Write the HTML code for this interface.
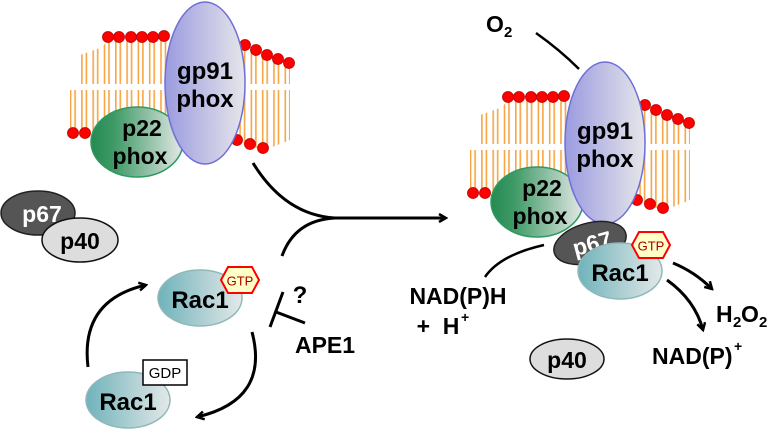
<!DOCTYPE html>
<html><head><meta charset="utf-8"><style>
html,body{margin:0;padding:0;background:#fff;}
svg{display:block;font-family:"Liberation Sans",Arial,sans-serif;font-weight:bold;}
</style></head><body>
<svg width="774" height="429" viewBox="0 0 774 429" xmlns="http://www.w3.org/2000/svg">
<defs>
<pattern id="lip" width="11.3" height="10" patternUnits="userSpaceOnUse" x="2">
<rect x="0" y="0" width="1.6" height="10" fill="#f7a545"/>
<rect x="4.5" y="0" width="1.6" height="10" fill="#f7a545"/>
</pattern>
<linearGradient id="gp" x1="0" x2="1"><stop offset="0" stop-color="#9b9be0"/><stop offset="1" stop-color="#e6e6ea"/></linearGradient>
<linearGradient id="p22" x1="0" x2="1"><stop offset="0" stop-color="#248a52"/><stop offset="0.25" stop-color="#3e9a66"/><stop offset="1" stop-color="#e4e8e6"/></linearGradient>
<linearGradient id="rac" x1="0" x2="1"><stop offset="0" stop-color="#6fb3ba"/><stop offset="1" stop-color="#e4e8e8"/></linearGradient>
<marker id="ah" markerWidth="10" markerHeight="10" refX="8" refY="5" orient="auto" markerUnits="userSpaceOnUse"><path d="M1,1 L8,5 L1,9" fill="none" stroke="#000" stroke-width="2.5"/></marker>
<g id="mem">
<polygon points="80,55 100,48 110,40 170,40 240,45 290,64 290,86 80,86" fill="url(#lip)"/>
<polygon points="70,90 290,90 290,140 265,150 235,143 90,133 70,133" fill="url(#lip)"/>
<rect x="70" y="84" width="222" height="6" fill="#fff"/>
<g fill="#f00" stroke="#b00" stroke-width="0.8">
<circle cx="108" cy="37" r="5.5"/><circle cx="119" cy="37" r="5.5"/><circle cx="131" cy="37" r="5.5"/><circle cx="142" cy="37" r="5.5"/><circle cx="153" cy="37" r="5.5"/><circle cx="164" cy="36" r="5.5"/>
<circle cx="245" cy="45" r="5.5"/><circle cx="256" cy="50" r="5.5"/><circle cx="267" cy="55" r="5.5"/><circle cx="278" cy="59" r="5.5"/><circle cx="289" cy="63" r="5.5"/>
<circle cx="73" cy="133" r="5.5"/><circle cx="85" cy="133" r="5.5"/>
<circle cx="237" cy="140" r="5.5"/><circle cx="250" cy="144" r="5.5"/><circle cx="263" cy="148" r="5.5"/>
</g>
<ellipse cx="137" cy="142" rx="46" ry="35" fill="url(#p22)" stroke="#2e9a60" stroke-width="1.5"/>
<text x="142" y="136" font-size="23" text-anchor="middle">p22</text>
<text x="140" y="164" font-size="23" text-anchor="middle">phox</text>
<ellipse cx="205" cy="83" rx="40" ry="81" fill="url(#gp)" stroke="#6f6fd8" stroke-width="1.5"/>
<text x="205" y="79" font-size="24" text-anchor="middle">gp91</text>
<text x="205" y="107" font-size="24" text-anchor="middle">phox</text>
</g>
</defs>

<use href="#mem"/>
<g transform="translate(400,60)"><use href="#mem"/></g>

<ellipse cx="38" cy="213" rx="37" ry="22" fill="#555" stroke="#222" stroke-width="1.5"/>
<text x="42" y="222" font-size="23" fill="#fff" text-anchor="middle">p67</text>
<ellipse cx="80" cy="240" rx="38" ry="22" fill="#ddd" stroke="#111" stroke-width="1.5"/>
<text x="80" y="249" font-size="23" text-anchor="middle">p40</text>

<g fill="none" stroke="#000" stroke-width="3">
<path d="M253,163 Q285,215 335,218"/>
<path d="M282,256 Q295,220 335,218"/>
<path d="M335,218 L446,218" marker-end="url(#ah)"/>
</g>

<ellipse cx="200" cy="298" rx="42" ry="28" fill="url(#rac)" stroke="#8fb8bb" stroke-width="1.5"/>
<text x="200" y="308" font-size="24" text-anchor="middle">Rac1</text>
<polygon points="221,280 228,267 252,267 259,280 252,293 228,293" fill="#ffffc8" stroke="#f00" stroke-width="2"/>
<text x="240" y="285.5" font-size="13" fill="#a00" font-weight="normal" text-anchor="middle">GTP</text>

<ellipse cx="128" cy="400" rx="42" ry="28" fill="url(#rac)" stroke="#8fb8bb" stroke-width="1.5"/>
<text x="128" y="410" font-size="24" text-anchor="middle">Rac1</text>
<rect x="143" y="360" width="44" height="25" fill="#fff" stroke="#000" stroke-width="1.5"/>
<text x="165" y="378" font-size="15" font-weight="normal" text-anchor="middle">GDP</text>

<g fill="none" stroke="#000" stroke-width="3">
<path d="M88,367 Q80,300 146,285" marker-end="url(#ah)"/>
<path d="M252,332 Q270,400 197,417" marker-end="url(#ah)"/>
<path d="M270,327 L283,292"/>
<path d="M276,312 L305,323"/>
</g>
<text x="300" y="303" font-size="24" text-anchor="middle">?</text>
<text x="325" y="353" font-size="23" text-anchor="middle">APE1</text>

<text x="486" y="32" font-size="23">O</text>
<text x="504" y="37" font-size="15">2</text>
<path d="M536,33 Q560,50 579,69" fill="none" stroke="#000" stroke-width="2.5"/>

<g transform="rotate(-15 590 243)">
<ellipse cx="590" cy="243" rx="37" ry="20" fill="#555" stroke="#222" stroke-width="1.5"/>
<text x="592" y="252" font-size="23" fill="#fff" text-anchor="middle">p67</text>
</g>
<ellipse cx="620" cy="271" rx="42" ry="28" fill="url(#rac)" stroke="#8fb8bb" stroke-width="1.5"/>
<text x="620" y="281" font-size="24" text-anchor="middle">Rac1</text>
<polygon points="632,245 639,232 663,232 670,245 663,258 639,258" fill="#ffffc8" stroke="#f00" stroke-width="2"/>
<text x="651" y="250.5" font-size="13" fill="#a00" font-weight="normal" text-anchor="middle">GTP</text>

<path d="M544,245 Q500,255 485,277" fill="none" stroke="#000" stroke-width="2.5"/>
<text x="458" y="304" font-size="23" text-anchor="middle">NAD(P)H</text>
<text x="438" y="334" font-size="23" text-anchor="middle">+&#160; H</text>
<text x="461" y="322" font-size="14">+</text>

<ellipse cx="567" cy="359" rx="37" ry="20" fill="#ddd" stroke="#111" stroke-width="1.5"/>
<text x="567" y="368" font-size="23" text-anchor="middle">p40</text>

<g fill="none" stroke="#000" stroke-width="3">
<path d="M673,263 Q695,272 712,289" marker-end="url(#ah)"/>
<path d="M667,280 Q695,300 703,330" marker-end="url(#ah)"/>
</g>
<text x="716" y="322" font-size="23">H</text>
<text x="733" y="327" font-size="15">2</text>
<text x="741" y="322" font-size="23">O</text>
<text x="759" y="327" font-size="15">2</text>
<text x="652" y="364" font-size="23">NAD(P)</text>
<text x="734" y="351" font-size="14">+</text>
</svg>
</body></html>
